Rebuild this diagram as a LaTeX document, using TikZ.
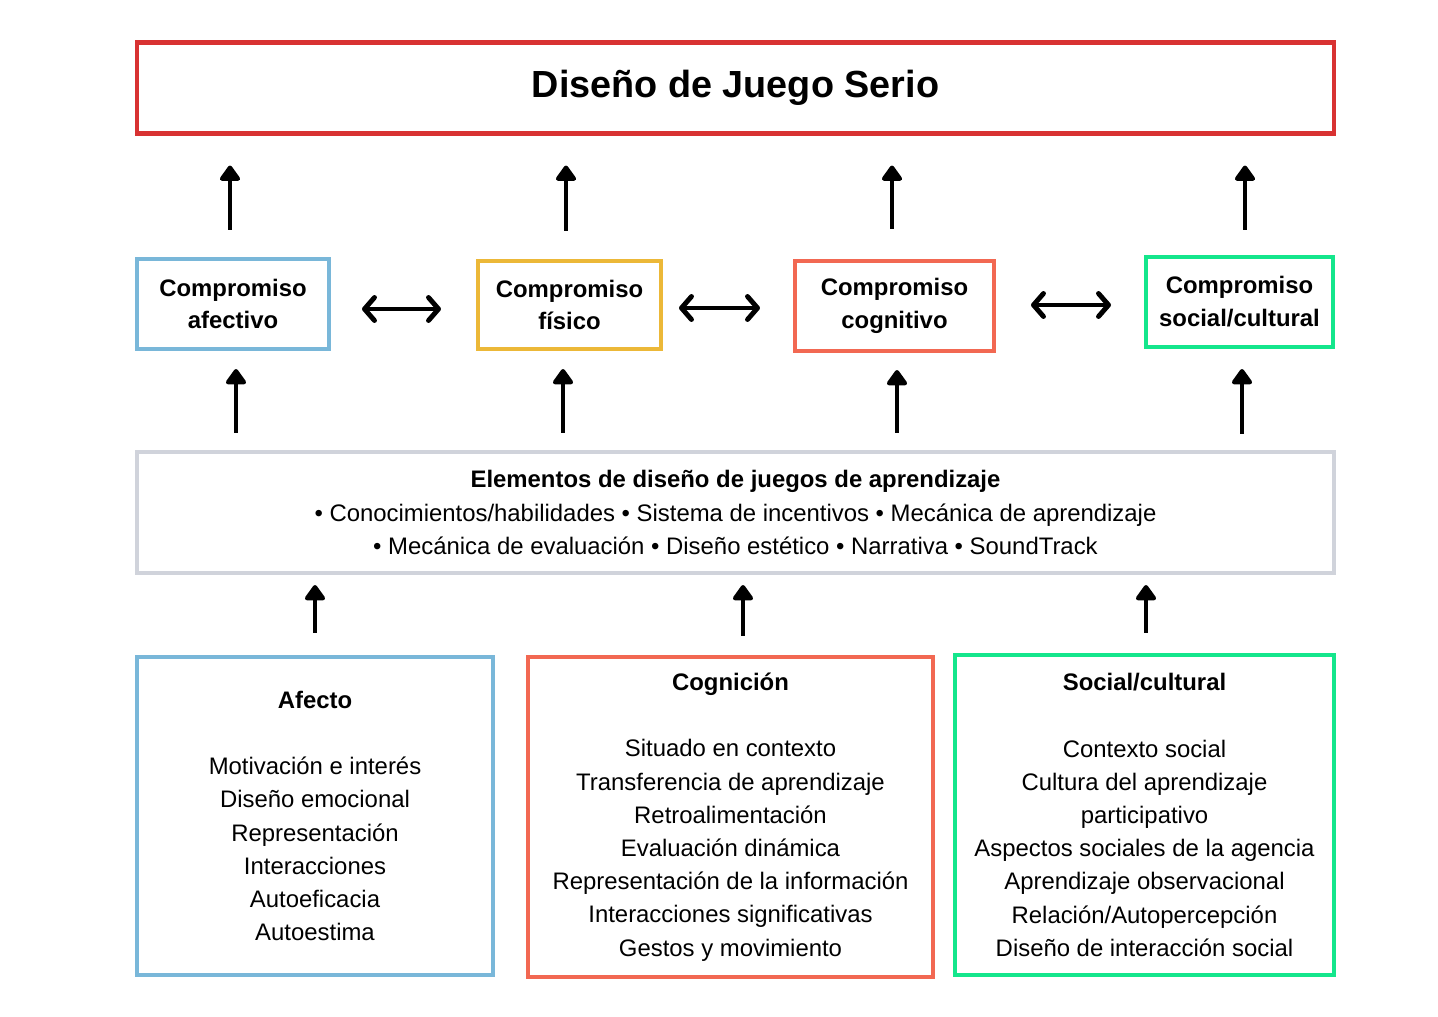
\documentclass[tikz,border=0pt]{standalone}
\usepackage{fontspec}
\setmainfont{Liberation Sans}
\usepackage{tikz}
\usetikzlibrary{arrows.meta,positioning}
\definecolor{rojo}{RGB}{216,50,50}
\definecolor{azul}{RGB}{121,183,217}
\definecolor{amarillo}{RGB}{236,184,56}
\definecolor{naranja}{RGB}{242,104,82}
\definecolor{verde}{RGB}{20,230,140}
\definecolor{gris}{RGB}{208,211,219}
\tikzset{
caja/.style={draw,line width=2.3pt,rectangle,align=center,inner sep=0pt},
sube/.style={line width=2.8pt,-{Triangle[length=0.34cm,width=0.46cm,round]}},
doble/.style={line width=2.8pt,{Straight Barb[length=0.2cm,width=0.46cm,round]}-{Straight Barb[length=0.2cm,width=0.46cm,round]}},
comp/.style={caja,font=\fontsize{13.6}{18.7}\selectfont\bfseries},
lista/.style={caja,font=\fontsize{13.6}{18.9}\selectfont}
}
\begin{document}
\begin{tikzpicture}[x=0.02cm,y=-0.02cm]
\useasboundingbox (0,0) rectangle (1438,1017);
\node[caja,draw=rojo,minimum width=1197*0.02cm,minimum height=91*0.02cm,font=\fontsize{21.5}{24}\selectfont\bfseries] (titulo) at (735.5,88) {\raisebox{-1pt}{Diseño de Juego Serio}};
\node[comp,draw=azul,minimum width=192*0.02cm,minimum height=90*0.02cm] (afectivo) at (233,304) {Compromiso\\afectivo};
\node[comp,draw=amarillo,minimum width=183*0.02cm,minimum height=88*0.02cm] (fisico) at (569.5,305) {Compromiso\\físico};
\node[comp,draw=naranja,minimum width=199*0.02cm,minimum height=90*0.02cm] (cognitivo) at (894.5,306) {Compromiso\\cognitivo};
\node[comp,draw=verde,minimum width=187*0.02cm,minimum height=90*0.02cm] (social) at (1239.5,302) {Compromiso\\social/cultural};
\node[lista,draw=gris,minimum width=1197*0.02cm,minimum height=121*0.02cm] (elementos) at (735.5,512.5) {\textbf{Elementos de diseño de juegos de aprendizaje}\\
• Conocimientos/habilidades • Sistema de incentivos • Mecánica de aprendizaje\\
• Mecánica de evaluación • Diseño estético • Narrativa • SoundTrack};
\node[lista,draw=azul,minimum width=356*0.02cm,minimum height=318*0.02cm] (afecto) at (315,816) {\textbf{Afecto}\\[18.9pt]
Motivación e interés\\Diseño emocional\\Representación\\Interacciones\\Autoeficacia\\Autoestima};
\node[lista,draw=naranja,minimum width=405*0.02cm,minimum height=320*0.02cm] (cognicion) at (730.5,817) {\textbf{Cognición}\\[18.9pt]
Situado en contexto\\Transferencia de aprendizaje\\Retroalimentación\\Evaluación dinámica\\Representación de la información\\Interacciones significativas\\Gestos y movimiento};
\node[lista,draw=verde,minimum width=379*0.02cm,minimum height=320*0.02cm] (cultural) at (1144.5,815) {\textbf{Social/cultural}\\[18.9pt]
Contexto social\\Cultura del aprendizaje\\participativo\\Aspectos sociales de la agencia\\Aprendizaje observacional\\Relación/Autopercepción\\Diseño de interacción social};
\draw[sube,shorten <=0.54cm,shorten >=0.6cm] ([xshift=-0.06cm]afectivo.north) -- ([xshift=-0.06cm]afectivo.north |- titulo.south);
\draw[sube,shorten <=0.56cm,shorten >=0.6cm] ([xshift=-0.07cm]fisico.north) -- ([xshift=-0.07cm]fisico.north |- titulo.south);
\draw[sube,shorten <=0.6cm,shorten >=0.6cm] ([xshift=-0.05cm]cognitivo.north) -- ([xshift=-0.05cm]cognitivo.north |- titulo.south);
\draw[sube,shorten <=0.5cm,shorten >=0.6cm] ([xshift=0.11cm]social.north) -- ([xshift=0.11cm]social.north |- titulo.south);
\draw[sube,shorten <=0.34cm,shorten >=0.36cm] ([xshift=0.06cm]afectivo.south |- elementos.north) -- ([xshift=0.06cm]afectivo.south);
\draw[sube,shorten <=0.34cm,shorten >=0.36cm] ([xshift=-0.13cm]fisico.south |- elementos.north) -- ([xshift=-0.13cm]fisico.south);
\draw[sube,shorten <=0.34cm,shorten >=0.34cm] ([xshift=0.05cm]cognitivo.south |- elementos.north) -- ([xshift=0.05cm]cognitivo.south);
\draw[sube,shorten <=0.32cm,shorten >=0.4cm] ([xshift=0.05cm]social.south |- elementos.north) -- ([xshift=0.05cm]social.south);
\draw[sube,shorten <=0.44cm,shorten >=0.2cm] (afecto.north) -- (afecto.north |- elementos.south);
\draw[sube,shorten <=0.38cm,shorten >=0.2cm] ([xshift=0.25cm]cognicion.north) -- ([xshift=0.25cm]cognicion.north |- elementos.south);
\draw[sube,shorten <=0.4cm,shorten >=0.2cm] ([xshift=0.03cm]cultural.north) -- ([xshift=0.03cm]cultural.north |- elementos.south);
\draw[doble,shorten <=0.62cm,shorten >=0.7cm] ([yshift=-0.1cm]afectivo.east) -- ([yshift=-0.1cm]afectivo.east -| fisico.west);
\draw[doble,shorten <=0.32cm,shorten >=0.66cm] ([yshift=-0.06cm]fisico.east) -- ([yshift=-0.06cm]fisico.east -| cognitivo.west);
\draw[doble,shorten <=0.7cm,shorten >=0.66cm] ([yshift=0.02cm]cognitivo.east) -- ([yshift=0.02cm]cognitivo.east -| social.west);
\end{tikzpicture}
\end{document}
